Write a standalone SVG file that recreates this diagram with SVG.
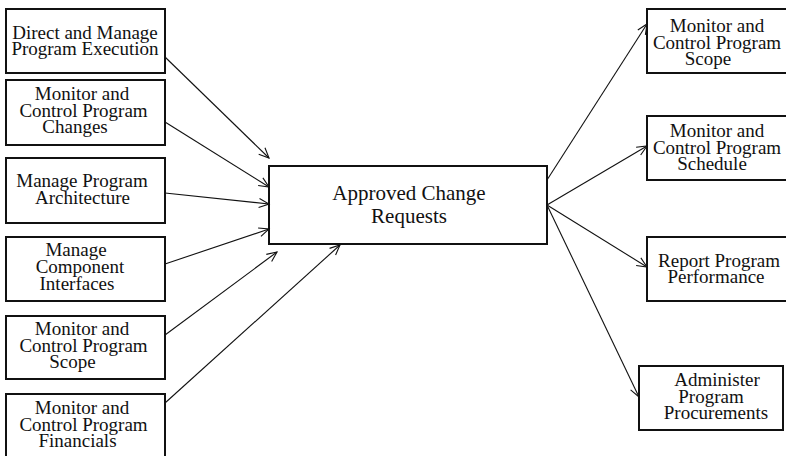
<svg xmlns="http://www.w3.org/2000/svg" width="786" height="456" viewBox="0 0 786 456">
  <style>
    .box { fill: #fff; stroke: #111; stroke-width: 2; }
    .lbl { font-family: "Liberation Serif", "Times New Roman", serif; font-size: 19px; fill: #111; text-anchor: middle; }
    .big { font-size: 21px; }
    .wire { stroke: #111; stroke-width: 1.1; fill: none; marker-end: url(#arrow); }
  </style>
  <defs>
    <marker id="arrow" markerUnits="userSpaceOnUse" markerWidth="14" markerHeight="12" viewBox="-11 -6 12 12" refX="0" refY="0" orient="auto">
      <path d="M-10,-4.5 L0,0 L-10,4.5" fill="none" stroke="#111" stroke-width="1.1"/>
    </marker>
  </defs>
  <rect width="786" height="456" fill="#fff"/>

  <!-- inputs -->
  <g id="direct-manage-execution">
    <rect class="box" x="6" y="9" width="159" height="64"/>
    <text class="lbl" x="85" y="39">Direct and Manage</text>
    <text class="lbl" x="85" y="55">Program Execution</text>
  </g>
  <g id="monitor-control-changes">
    <rect class="box" x="6" y="80" width="159" height="65"/>
    <text class="lbl" x="82" y="100">Monitor and</text>
    <text class="lbl" x="83.5" y="117">Control Program</text>
    <text class="lbl" x="75" y="133">Changes</text>
  </g>
  <g id="manage-architecture">
    <rect class="box" x="6" y="158" width="159" height="65"/>
    <text class="lbl" x="82" y="187">Manage Program</text>
    <text class="lbl" x="82.5" y="204">Architecture</text>
  </g>
  <g id="manage-interfaces">
    <rect class="box" x="6" y="237" width="159" height="64"/>
    <text class="lbl" x="76" y="256">Manage</text>
    <text class="lbl" x="80" y="273">Component</text>
    <text class="lbl" x="77" y="290">Interfaces</text>
  </g>
  <g id="monitor-control-scope-in">
    <rect class="box" x="6" y="316" width="159" height="63"/>
    <text class="lbl" x="82" y="335">Monitor and</text>
    <text class="lbl" x="83.5" y="352">Control Program</text>
    <text class="lbl" x="72.5" y="368">Scope</text>
  </g>
  <g id="monitor-control-financials">
    <rect class="box" x="6" y="394" width="159" height="70"/>
    <text class="lbl" x="82" y="414">Monitor and</text>
    <text class="lbl" x="83.5" y="431">Control Program</text>
    <text class="lbl" x="77.5" y="447">Financials</text>
  </g>

  <!-- hub -->
  <g id="approved-change-requests">
    <rect class="box" x="269" y="166" width="278" height="78"/>
    <text class="lbl big" x="409" y="200">Approved Change</text>
    <text class="lbl big" x="409" y="223">Requests</text>
  </g>

  <!-- outputs -->
  <g id="monitor-control-scope-out">
    <rect class="box" x="647" y="9" width="145" height="64"/>
    <text class="lbl" x="717" y="32">Monitor and</text>
    <text class="lbl" x="717" y="49">Control Program</text>
    <text class="lbl" x="708" y="65">Scope</text>
  </g>
  <g id="monitor-control-schedule">
    <rect class="box" x="647" y="116" width="145" height="64"/>
    <text class="lbl" x="717" y="137">Monitor and</text>
    <text class="lbl" x="717" y="154">Control Program</text>
    <text class="lbl" x="712" y="170">Schedule</text>
  </g>
  <g id="report-performance">
    <rect class="box" x="647" y="237" width="145" height="64"/>
    <text class="lbl" x="719" y="267">Report Program</text>
    <text class="lbl" x="716" y="283">Performance</text>
  </g>
  <g id="administer-procurements">
    <rect class="box" x="639" y="366" width="144" height="64"/>
    <text class="lbl" x="717" y="386">Administer</text>
    <text class="lbl" x="711" y="403">Program</text>
    <text class="lbl" x="716" y="419">Procurements</text>
  </g>

  <g id="connectors">
    <line class="wire" x1="165" y1="57" x2="269" y2="158"/>
    <line class="wire" x1="165" y1="122" x2="269" y2="187"/>
    <line class="wire" x1="165" y1="193" x2="269" y2="204"/>
    <line class="wire" x1="165" y1="264" x2="269" y2="229"/>
    <line class="wire" x1="165" y1="335" x2="277" y2="252"/>
    <line class="wire" x1="165" y1="403" x2="340" y2="245"/>
    <line class="wire" x1="547" y1="180" x2="647" y2="24"/>
    <line class="wire" x1="547" y1="205" x2="647" y2="146"/>
    <line class="wire" x1="547" y1="205" x2="647" y2="267"/>
    <line class="wire" x1="547" y1="205" x2="639" y2="397"/>
  </g>
</svg>
